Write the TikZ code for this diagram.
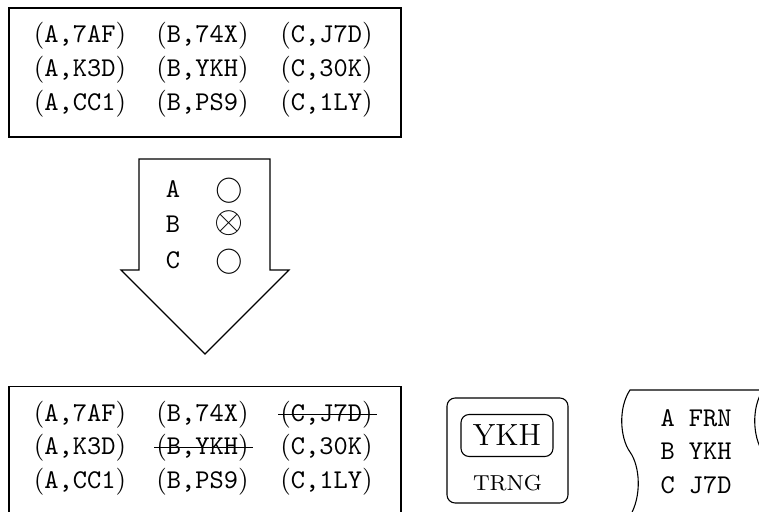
\documentclass[tikz,border=0pt]{standalone}
\usetikzlibrary{calc}
\begin{document}
\begin{tikzpicture}[x=0.369pt,y=-0.369pt,
  cell/.style={anchor=base, inner sep=0pt},
  lbl/.style={font=\ttfamily, anchor=base west, inner sep=0pt},
  frame/.style={draw, line width=0.4pt, inner sep=0pt},
  strike/.style={line width=0.4pt},
  rbox/.style={draw, rounded corners=3pt, inner sep=0pt}]
\useasboundingbox (0,0) rectangle (759,511);
\clip (0,0) rectangle (759,511);

% top box
\node[frame, minimum width=392*0.369pt, minimum height=129*0.369pt] (topbox) at (205,72.5) {};
\node[cell] (t11) at (80,42.5) {(\texttt{A,7AF})};
\node[cell] (t12) at (202.5,42.5) {(\texttt{B,74X})};
\node[cell] (t13) at (326.5,42.5) {(\texttt{C,J7D})};
\node[cell] (t21) at (80,76) {(\texttt{A,K3D})};
\node[cell] (t22) at (202.5,76) {(\texttt{B,YKH})};
\node[cell] (t23) at (326.5,76) {(\texttt{C,30K})};
\node[cell] (t31) at (80,110) {(\texttt{A,CC1})};
\node[cell] (t32) at (202.5,110) {(\texttt{B,PS9})};
\node[cell] (t33) at (326.5,110) {(\texttt{C,1LY})};

% arrow
\draw[line width=0.4pt] (139,159) -- (270,159) -- (270,270) -- (289,270) -- (205,354) -- (121,270) -- (139,270) -- cycle;
\node[cell, font=\ttfamily] (la) at (173,197) {A};
\node[cell, font=\ttfamily] (lb) at (173,232.5) {B};
\node[cell, font=\ttfamily] (lc) at (173,268) {C};
\node[anchor=base, inner sep=0pt] (ca) at (229,197) {$\bigcirc$};
\node[anchor=base, inner sep=0pt] (cb) at (229,232.5) {\scalebox{1.38}{$\otimes$}};
\node[anchor=base, inner sep=0pt] (cc) at (229,268) {$\bigcirc$};

% bottom box
\node[frame, minimum width=392*0.369pt, minimum height=129*0.369pt] (botbox) at (205,451.2) {};
\node[cell] (b11) at (80,421) {(\texttt{A,7AF})};
\node[cell] (b12) at (202.5,421) {(\texttt{B,74X})};
\node[cell] (b13) at (326.5,421) {(\texttt{C,J7D})};
\node[cell] (b21) at (80,454.5) {(\texttt{A,K3D})};
\node[cell] (b22) at (202.5,454.5) {(\texttt{B,YKH})};
\node[cell] (b23) at (326.5,454.5) {(\texttt{C,30K})};
\node[cell] (b31) at (80,488.5) {(\texttt{A,CC1})};
\node[cell] (b32) at (202.5,488.5) {(\texttt{B,PS9})};
\node[cell] (b33) at (326.5,488.5) {(\texttt{C,1LY})};
\draw[strike] ([xshift=-0.6pt,yshift=2.5pt]b13.base west) -- ([xshift=1.5pt,yshift=2.5pt]b13.base east);
\draw[strike] ([xshift=-0.6pt,yshift=2.5pt]b22.base west) -- ([xshift=1.5pt,yshift=2.5pt]b22.base east);

% TRNG box
\node[rbox, minimum width=121*0.369pt, minimum height=105*0.369pt] (trng) at (507.5,450.5) {};
\node[rbox, minimum width=92*0.369pt, minimum height=42*0.369pt, font=\fontsize{11.3}{13}\selectfont] (ykh) at (507,435.5) {YKH};
\node[anchor=base, inner sep=0pt, font=\footnotesize] (trnglbl) at (507.5,490) {TRNG};

% scroll shapes
\draw[line width=0.4pt] (800,390) -- (630,390)
  .. controls (618,408) and (620,438) .. (630,452)
  .. controls (640,466) and (642,496) .. (630,516);
\draw[line width=0.4pt] (900,390) -- (763,390)
  .. controls (751,408) and (753,438) .. (763,452)
  .. controls (773,466) and (775,496) .. (763,516);
\node[lbl] (s1) at (660,426) {A FRN};
\node[lbl] (s2) at (660,459.5) {B YKH};
\node[lbl] (s3) at (660,493) {C J7D};
\end{tikzpicture}
\end{document}
